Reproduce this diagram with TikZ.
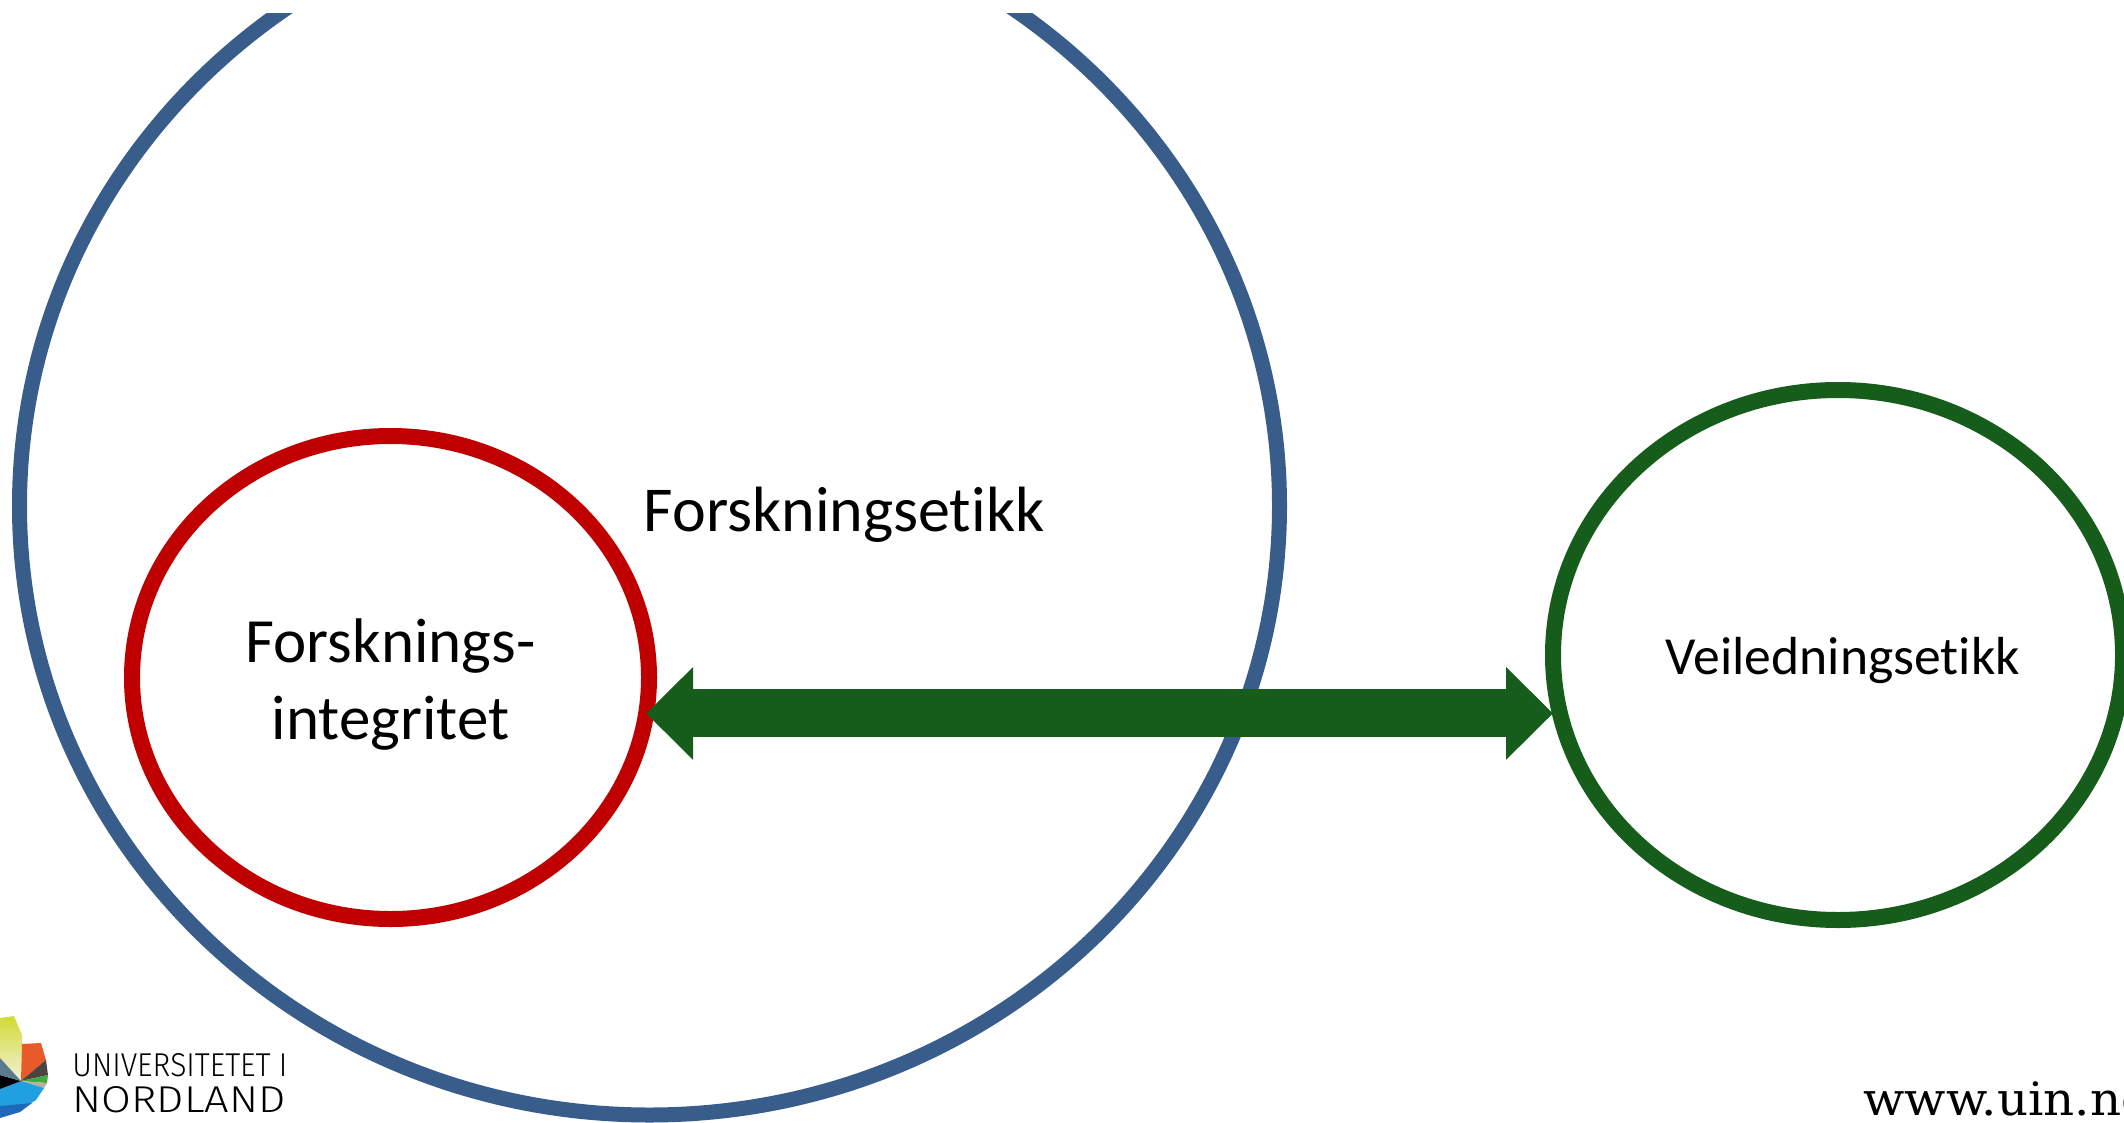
\documentclass[tikz,border=0pt]{standalone}
\usepackage{fontspec}
\setmainfont{Carlito}[Ligatures=NoCommon]
\newfontfamily\logofont{Fira Sans}[UprightFont={* Light}]
\newfontfamily\webfont{DejaVu Serif}[FakeStretch=1.05]
\usepackage{graphicx}
\usepackage{tikz}
\usetikzlibrary{arrows.meta,shapes.geometric}
\tikzset{%
  ring/.style={ellipse,draw,inner sep=0pt,outer sep=0pt},
  ringtext/.style={align=center,inner sep=0pt},
  link/.style={line width=24pt,color=mygreen,{Triangle[length=23.5pt,width=45pt]}-{Triangle[length=23.5pt,width=45pt]}},
  logotext/.style={anchor=base west,inner sep=0pt,text=black},
}
\definecolor{myblue}{HTML}{385D8A}
\definecolor{myred}{HTML}{C00000}
\definecolor{mygreen}{HTML}{165C1A}
\definecolor{logoyellow}{HTML}{D2DA36}
\definecolor{logopale}{HTML}{F2F2D6}
\definecolor{logoorange}{HTML}{E85A2A}
\definecolor{logogray}{HTML}{4B4340}
\definecolor{logogreen}{HTML}{3DAA3A}
\definecolor{logotan}{HTML}{B8B0A0}
\definecolor{logosky}{HTML}{20A0E0}
\definecolor{logoblue}{HTML}{1E6AB8}
\definecolor{logoslate}{HTML}{5A7A90}

\begin{document}
\begin{tikzpicture}[x=0.5pt,y=-0.5pt]
      \clip (0,0) rectangle (2124,1123);
      \fill[white] (0,0) rectangle (2124,1123);

      % outer ring, cut off at the top
      \begin{scope}
        \clip (0,14) rectangle (2124,1123);
        \node[ring,draw=myblue,line width=7.5pt,minimum width=630pt,minimum height=609pt] (node_etikk) at (649.5,506) {};
      \end{scope}
      \node[anchor=base,inner sep=0pt,font=\fontsize{32}{38}\selectfont] (node_etikk_text) at (844,531) {Forskningsetikk};

      \node[ring,draw=myred,line width=8pt,minimum width=258.5pt,minimum height=241.5pt] (node_integritet) at (390.5,677.5) {};
      \node[ringtext,font=\fontsize{31.5}{38.5}\selectfont] (node_integritet_text) at ([yshift=-3.4pt]node_integritet.center) {Forsknings-\\integritet};

      \node[ring,draw=mygreen,line width=8pt,minimum width=285pt,minimum height=265pt] (node_veiledning) at (1838,655) {};
      \node[ringtext,font=\fontsize{26.8}{32}\selectfont] (node_veiledning_text) at ([xshift=2.4pt,yshift=-2.7pt]node_veiledning.center) {Veiledningsetikk};

      \draw[link] (node_integritet.-8) -- (node_integritet.-8 -| node_veiledning.west);

      % logo
      \shade[top color=logoyellow,bottom color=logopale] (21,1081) -- (0,1058) -- (0,1018) -- (14,1016) -- (22,1035) -- (22,1044) -- cycle;
      \fill[logoorange] (21,1081) -- (22,1044) -- (41,1043) -- (46,1060) -- cycle;
      \fill[logogray] (21,1081) -- (46,1060) -- (48,1075) -- cycle;
      \fill[logogreen] (21,1081) -- (48,1075) -- (47,1083) -- cycle;
      \fill[logotan] (21,1081) -- (47,1083) -- (44,1088) -- cycle;
      \fill[logosky] (21,1081) -- (44,1088) -- (36,1100) -- (20,1110) -- (0,1113) -- (0,1089) -- cycle;
      \fill[black] (21,1081) -- (0,1075) -- (0,1089) -- cycle;
      \fill[logoslate] (21,1081) -- (0,1058) -- (0,1075) -- cycle;
      \fill[logoblue] (0,1106) -- (32,1103) -- (20,1112) -- (0,1118) -- cycle;

      \node[logotext] (logo_line1) at (72,1076) {\logofont\resizebox{107.5pt}{11.5pt}{UNIVERSITETET I}};
      \node[logotext] (logo_line2) at (72,1112) {\logofont\resizebox{106.5pt}{13pt}{NORDLAND}};

      \node[anchor=base west,inner sep=0pt,font=\webfont\fontsize{23}{27}\selectfont] (node_web) at (1863,1115) {www.uin.no};
\end{tikzpicture}
\end{document}
